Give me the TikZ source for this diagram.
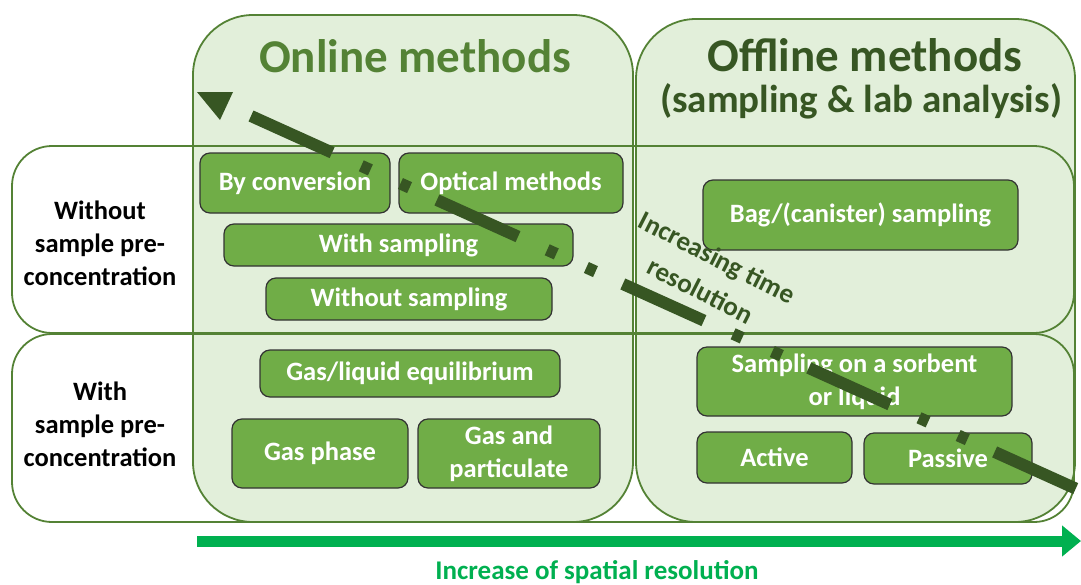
\documentclass[tikz,border=0pt]{standalone}
\usepackage{fontspec}
\setmainfont{Carlito}
\usetikzlibrary{arrows.meta}
\definecolor{lightg}{HTML}{E2EFDA}
\definecolor{borderg}{HTML}{548235}
\definecolor{boxg}{HTML}{70AD47}
\definecolor{darkg}{HTML}{375623}
\definecolor{arrowg}{HTML}{00B050}
\tikzset{
  colst/.style={draw=borderg, fill=lightg, line width=1.8, rounded corners=60},
  rowst/.style={draw=borderg, line width=1.8, rounded corners=40},
  mbox/.style={draw=black!80, fill=boxg, rounded corners=10, text=white, line width=1.2,
    inner sep=0, align=center, font=\fontsize{26.5}{33}\selectfont\bfseries},
  rowlabel/.style={anchor=center, align=center, text=black, font=\fontsize{26.5}{33}\selectfont\bfseries},
  head/.style={anchor=base, font=\fontsize{47}{50}\selectfont\bfseries},
}
\begin{document}
\begin{tikzpicture}[x=1pt,y=-1pt]
\useasboundingbox (0,0) rectangle (1081,584);
% columns
\path[colst] (193,15) rectangle (633,522);
\path[colst] (636,19) rectangle (1075,522);
% rows
\path[rowst] (12,146) rectangle (1074,333);
\path[rowst] (12,334) rectangle (1074,522);
% headers
\node[head, text=borderg] (online) at (415,72) {Online methods};
\node[head, text=darkg] (offline) at (865,71) {Offline methods};
\node[head, text=darkg, font=\fontsize{39}{42}\selectfont\bfseries] (offline2) at (861,112) {(sampling \& lab analysis)};
% row labels
\node[rowlabel] (r1) at (100,243) {Without\\sample pre-\\concentration};
\node[rowlabel] (r2) at (100,424) {With\\sample pre-\\concentration};
% boxes
\node[mbox, minimum width=190, minimum height=60] (conv) at (295,183) {By conversion};
\node[mbox, minimum width=224, minimum height=60] (opt) at (511,183) {Optical methods};
\node[mbox, minimum width=349, minimum height=42] (wsamp) at (398.5,245) {With sampling};
\node[mbox, minimum width=286, minimum height=42] (wosamp) at (409,299) {Without sampling};
\node[mbox, minimum width=300, minimum height=47] (gle) at (410,373.5) {Gas/liquid equilibrium};
\node[mbox, minimum width=176, minimum height=69] (gph) at (320,453.5) {Gas phase};
\node[mbox, minimum width=182, minimum height=69] (gpart) at (509,453.5) {Gas and\\particulate};
\node[mbox, minimum width=315, minimum height=70] (bag) at (860.5,215) {Bag/(canister) sampling};
\node[mbox, minimum width=315, minimum height=69] (sorb) at (854.5,381.5) {Sampling on a sorbent\\or liquid};
\node[mbox, minimum width=155, minimum height=51] (act) at (774.5,457.5) {Active};
\node[mbox, minimum width=168, minimum height=51] (pass) at (948,458.5) {Passive};
% time resolution arrow
\coordinate (tstart) at (251,116);
\coordinate (tend) at (1116.5,507);
\draw[darkg, line width=12, dash pattern=on 89 off 32 on 10 off 33 on 10 off 30] (tstart) -- (tend);
\fill[darkg] (197,92) -- (233,92) -- (220,120) -- cycle;
\node[rotate=-27, align=center, text=darkg, font=\fontsize{27}{37}\selectfont\bfseries] (tlabel) at (709,274) {Increasing time\\resolution};
% spatial resolution arrow
\coordinate (sa) at (197,541);
\coordinate (sb) at (1081,541);
\draw[arrowg, line width=11, -{Triangle[length=19pt,width=30pt]}] (sa) -- (sb);
\node[text=arrowg, font=\fontsize{27}{30}\selectfont\bfseries] (slabel) at (597,572) {Increase of spatial resolution};
\end{tikzpicture}
\end{document}
